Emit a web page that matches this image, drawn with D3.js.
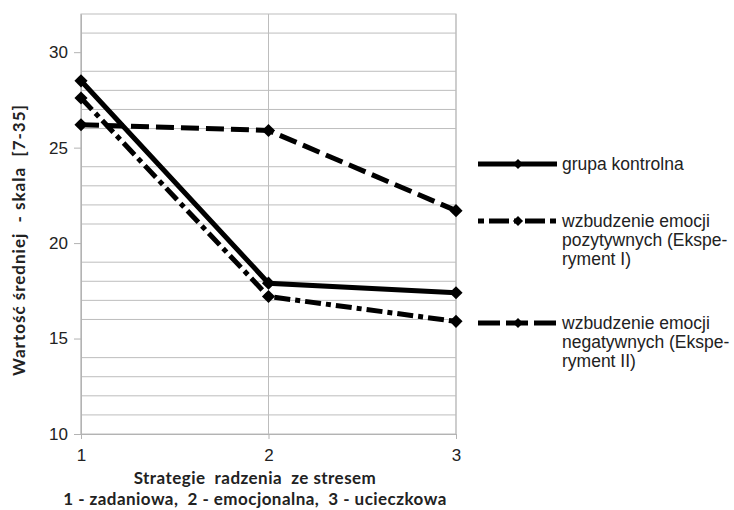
<!DOCTYPE html>
<html>
<head>
<meta charset="utf-8">
<script src="https://d3js.org/d3.v7.min.js"></script>
<style>
  body { margin: 0; background: #fff; }
  .tick text { font-family: "Liberation Sans", sans-serif; font-size: 17px; fill: #222; }
  .axis .domain, .axis line { stroke: #b3b3b3; }
</style>
</head>
<body>
<svg id="chart" width="734" height="510"></svg>
<script>
// data
const strategies = [1, 2, 3];
const kontrolna = [28.5, 17.9, 17.4];
const pozytywne = [27.6, 17.2, 15.9];
const negatywne = [26.2, 25.9, 21.7];
const yTicks = [10, 15, 20, 25, 30];
const legendLines = [
  ["grupa kontrolna"],
  ["wzbudzenie emocji", "pozytywnych (Ekspe-", "ryment I)"],
  ["wzbudzenie emocji", "negatywnych (Ekspe-", "ryment II)"]
];

const svg = d3.select("#chart");
const margins = { top: 14, left: 81 };
const chartWidth = 375, chartHeight = 420;

const x = d3.scaleLinear().domain([1, 3]).range([0, chartWidth]);
const y = d3.scaleLinear().domain([10, 32]).range([chartHeight, 0]);

const g = svg.append("g").attr("transform", `translate(${margins.left},${margins.top})`);

// minor grid lines (major ones are not drawn in the original)
const minor = d3.range(11, 32).filter(v => v % 5 !== 0);
g.append("g").selectAll("line").data(minor).join("line")
  .attr("x1", 0).attr("x2", chartWidth)
  .attr("y1", d => y(d)).attr("y2", d => y(d))
  .attr("stroke", "#bdbdbd").attr("stroke-width", 1);

// vertical grid + frame
g.append("g").selectAll("line").data(strategies).join("line")
  .attr("x1", d => x(d)).attr("x2", d => x(d))
  .attr("y1", 0).attr("y2", chartHeight)
  .attr("stroke", "#bdbdbd");
g.append("rect").attr("x", 0).attr("y", 0)
  .attr("width", chartWidth).attr("height", chartHeight)
  .attr("fill", "none").attr("stroke", "#bdbdbd");

g.append("g").attr("class", "axis")
  .call(d3.axisLeft(y).tickValues(yTicks).tickSize(7).tickSizeOuter(0).tickPadding(6));
g.append("g").attr("class", "axis")
  .attr("transform", `translate(0,${chartHeight})`)
  .call(d3.axisBottom(x).tickValues(strategies).tickFormat(d3.format("d"))
    .tickSize(5).tickSizeOuter(0).tickPadding(10));

const styles = [
  { values: kontrolna, dash: null },
  { values: pozytywne, dash: "16,5,5,5" },
  { values: negatywne, dash: "18,7" }
];

const line = d3.line().x((d, i) => x(strategies[i])).y(d => y(d));
const diamond = d3.symbol().type(d3.symbolDiamond2);

styles.forEach(s => {
  g.append("path").datum(s.values)
    .attr("d", line).attr("fill", "none")
    .attr("stroke", "#000").attr("stroke-width", 5)
    .attr("stroke-dasharray", s.dash);
  g.append("g").selectAll("path").data(s.values).join("path")
    .attr("transform", (d, i) => `translate(${x(strategies[i])},${y(d)})`)
    .attr("d", diamond.size(110)).attr("fill", "#000");
});

// legend
const legendY = [164, 221, 323];
const legend = svg.append("g");
styles.forEach((s, i) => {
  const lg = legend.append("g").attr("transform", `translate(478,${legendY[i]})`);
  lg.append("line").attr("x1", 0).attr("x2", 79).attr("y1", 0).attr("y2", 0)
    .attr("stroke", "#000").attr("stroke-width", 5)
    .attr("stroke-dasharray", i === 1 ? "6,5,20,5" : (i === 2 ? "22,6" : null));
  lg.append("path").attr("transform", "translate(40,0)")
    .attr("d", diamond.size(65)).attr("fill", "#000");
  lg.append("text").attr("x", 84).attr("y", 0)
    .style("font-family", "Liberation Sans, sans-serif")
    .style("font-size", "17.5px").attr("fill", "#222")
    .selectAll("tspan").data(legendLines[i]).join("tspan")
    .attr("x", 84).attr("dy", (d, j) => j === 0 ? "0.35em" : "19px")
    .text(d => d);
});

// axis titles
const titleFont = t => t.attr("text-anchor", "middle")
  .style("font-family", "Lato, sans-serif").style("font-weight", "bold")
  .style("font-size", "17px").attr("fill", "#222")
  .style("white-space", "pre");

svg.append("text")
  .attr("transform", "translate(25,240) rotate(-90)")
  .call(titleFont).style("letter-spacing", "1px")
  .text("Wartość średniej  - skala  [7-35]");

svg.append("text").attr("x", 255).attr("y", 484)
  .call(titleFont).style("letter-spacing", "0.45px")
  .text("Strategie  radzenia  ze stresem");
svg.append("text").attr("x", 255).attr("y", 505)
  .call(titleFont).style("letter-spacing", "0.45px")
  .text("1 - zadaniowa,  2 - emocjonalna,  3 - ucieczkowa");
</script>
</body>
</html>
